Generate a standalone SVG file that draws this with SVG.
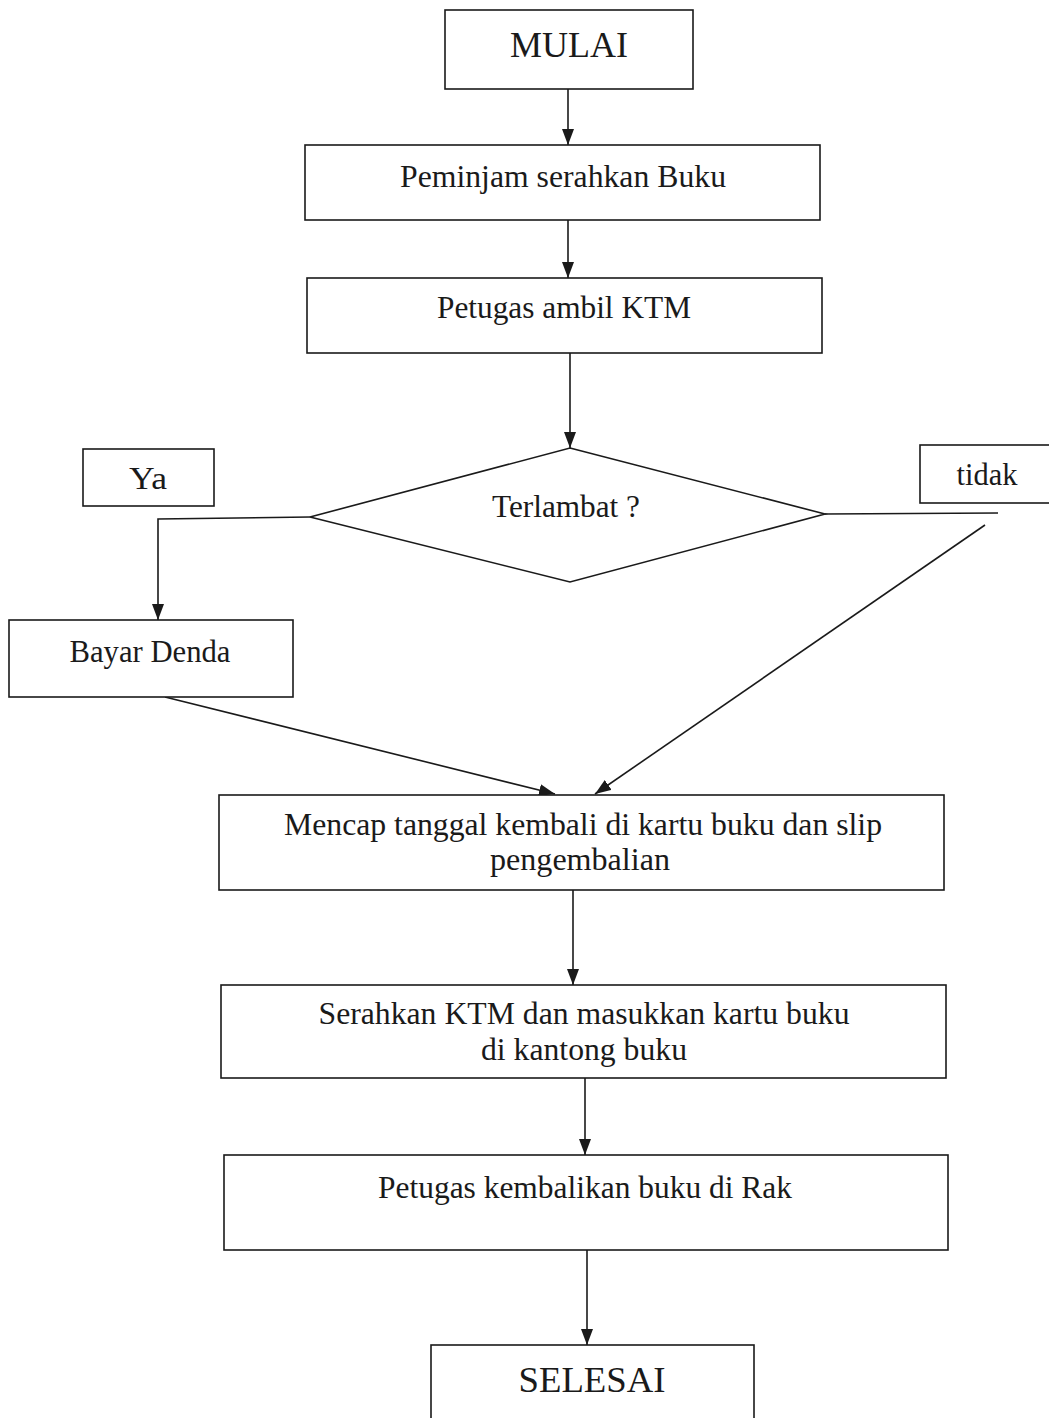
<svg xmlns="http://www.w3.org/2000/svg" width="1049" height="1418" viewBox="0 0 1049 1418">
<style>
.box{fill:#fff;stroke:#1a1a1a;stroke-width:1.6}
.ln{fill:none;stroke:#1a1a1a;stroke-width:1.6}
.t{font-family:"Liberation Serif","Times New Roman",serif;fill:#1a1a1a;text-anchor:middle;font-size:31px}
.big{font-size:35px}
</style>
<defs>
<marker id="ad" viewBox="0 0 16 12" refX="16" refY="6" markerWidth="16" markerHeight="12" markerUnits="userSpaceOnUse" orient="auto">
<path d="M0,0 L16,6 L0,12 Z" fill="#1a1a1a"/>
</marker>
</defs>
<rect width="1049" height="1418" fill="#fff"/>
<g id="connectors">
<line class="ln" x1="568" y1="89" x2="568" y2="145" marker-end="url(#ad)"/>
<line class="ln" x1="568" y1="220" x2="568" y2="278" marker-end="url(#ad)"/>
<line class="ln" x1="570" y1="353" x2="570" y2="448" marker-end="url(#ad)"/>
<polyline class="ln" points="310,517 158,519 158,620" marker-end="url(#ad)"/>
<line class="ln" x1="825" y1="514" x2="998" y2="513"/>
<line class="ln" x1="985" y1="525" x2="595" y2="794" marker-end="url(#ad)"/>
<line class="ln" x1="165" y1="697" x2="555" y2="794" marker-end="url(#ad)"/>
<line class="ln" x1="573" y1="890" x2="573" y2="985" marker-end="url(#ad)"/>
<line class="ln" x1="585" y1="1078" x2="585" y2="1155" marker-end="url(#ad)"/>
<line class="ln" x1="587" y1="1250" x2="587" y2="1345" marker-end="url(#ad)"/>
</g>
<g id="mulai">
<rect class="box" x="445" y="10" width="248" height="79"/>
<text class="t big" x="569" y="57" textLength="118" lengthAdjust="spacingAndGlyphs">MULAI</text>
</g>
<g id="peminjam">
<rect class="box" x="305" y="145" width="515" height="75"/>
<text class="t" x="563" y="187" textLength="326" lengthAdjust="spacingAndGlyphs">Peminjam serahkan Buku</text>
</g>
<g id="ambil">
<rect class="box" x="307" y="278" width="515" height="75"/>
<text class="t" x="564" y="318" textLength="254" lengthAdjust="spacingAndGlyphs">Petugas ambil KTM</text>
</g>
<g id="terlambat">
<polygon class="box" points="570,448 825,514 570,582 310,517"/>
<text class="t" x="566" y="517" textLength="148" lengthAdjust="spacingAndGlyphs">Terlambat ?</text>
</g>
<g id="ya">
<rect class="box" x="83" y="449" width="131" height="57"/>
<text class="t" x="148" y="489" textLength="38" lengthAdjust="spacingAndGlyphs">Ya</text>
</g>
<g id="tidak">
<rect class="box" x="920" y="445" width="135" height="58"/>
<text class="t" x="987" y="485" textLength="61" lengthAdjust="spacingAndGlyphs">tidak</text>
</g>
<g id="denda">
<rect class="box" x="9" y="620" width="284" height="77"/>
<text class="t" x="150" y="662" textLength="161" lengthAdjust="spacingAndGlyphs">Bayar Denda</text>
</g>
<g id="mencap">
<rect class="box" x="219" y="795" width="725" height="95"/>
<text class="t" x="583" y="835" textLength="598" lengthAdjust="spacingAndGlyphs">Mencap tanggal kembali di kartu buku dan slip</text>
<text class="t" x="580" y="870" textLength="180" lengthAdjust="spacingAndGlyphs">pengembalian</text>
</g>
<g id="serahkan">
<rect class="box" x="221" y="985" width="725" height="93"/>
<text class="t" x="584" y="1024" textLength="531" lengthAdjust="spacingAndGlyphs">Serahkan KTM dan masukkan kartu buku</text>
<text class="t" x="584" y="1060" textLength="206" lengthAdjust="spacingAndGlyphs">di kantong buku</text>
</g>
<g id="kembalikan">
<rect class="box" x="224" y="1155" width="724" height="95"/>
<text class="t" x="585" y="1198" textLength="414" lengthAdjust="spacingAndGlyphs">Petugas kembalikan buku di Rak</text>
</g>
<g id="selesai">
<rect class="box" x="431" y="1345" width="323" height="90"/>
<text class="t big" x="592" y="1392" textLength="147" lengthAdjust="spacingAndGlyphs">SELESAI</text>
</g>
</svg>
